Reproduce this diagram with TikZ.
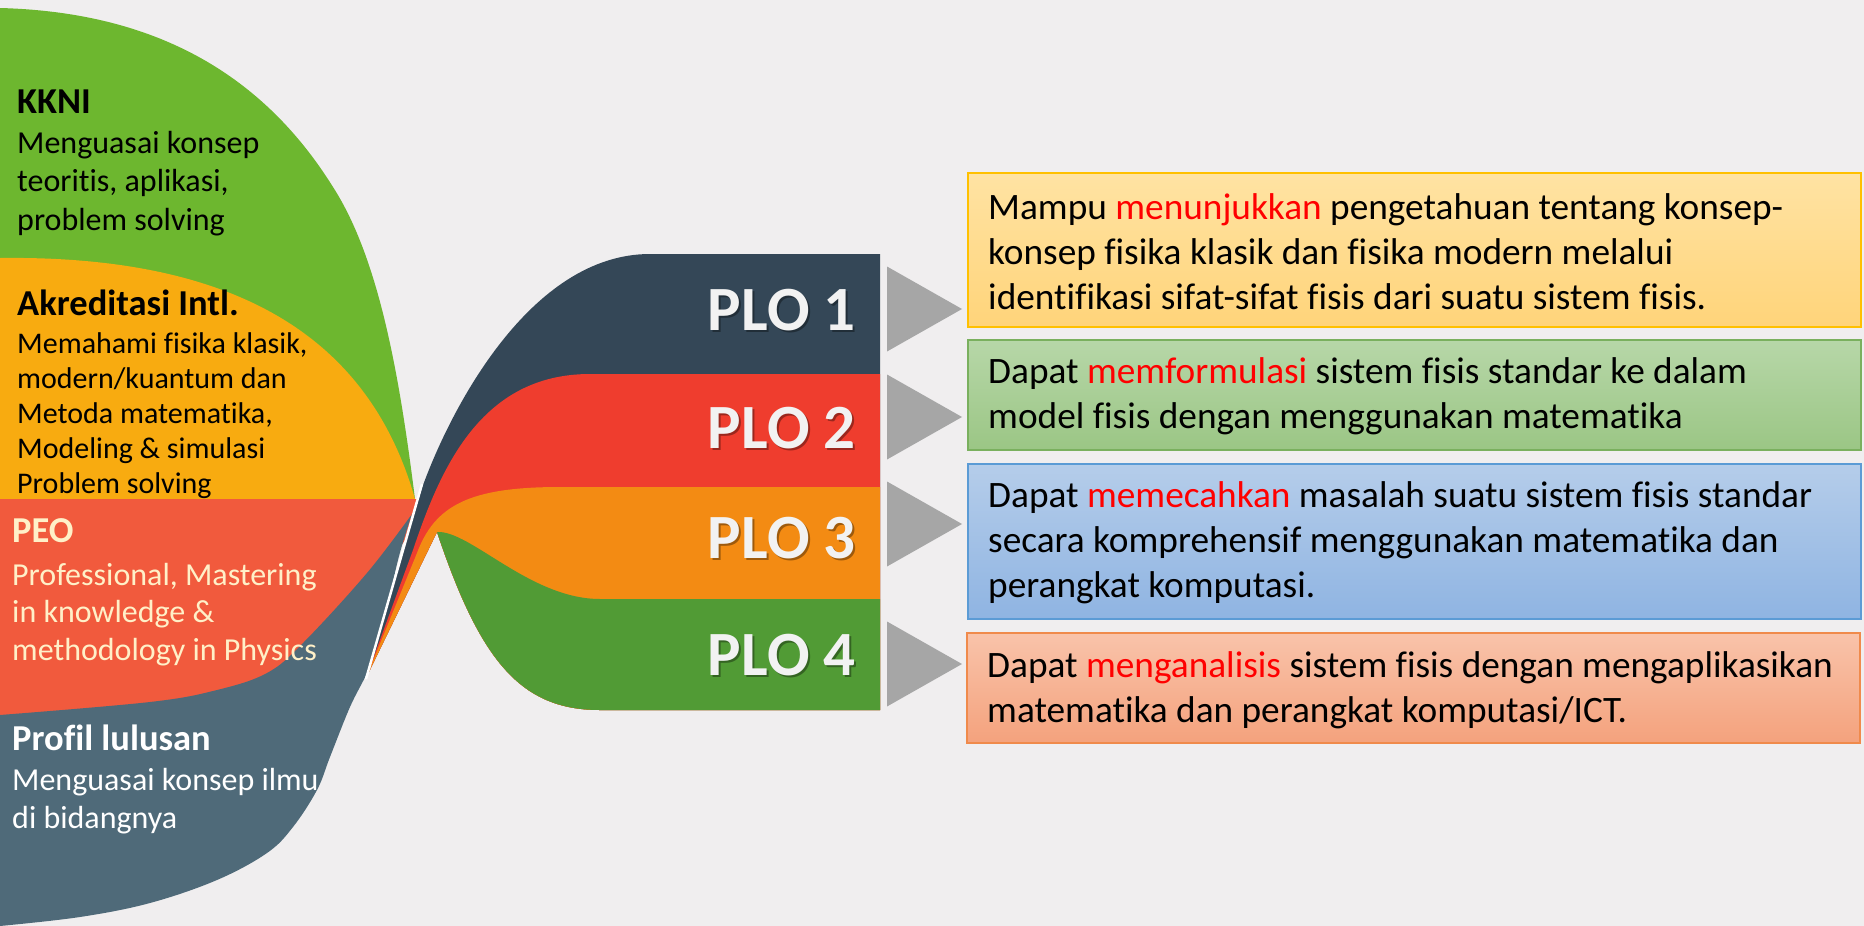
\documentclass[tikz,border=0pt]{standalone}
\usepackage{fontspec}
\setmainfont{Carlito}[Ligatures=NoCommon]
\usetikzlibrary{positioning}

\definecolor{bg}{HTML}{F0EEEF}
\definecolor{kkni}{HTML}{6DB72F}
\definecolor{akred}{HTML}{F8AB10}
\definecolor{peo}{HTML}{F15A3D}
\definecolor{peotext}{HTML}{FFF0C8}
\definecolor{profil}{HTML}{4F6A79}
\definecolor{ploa}{HTML}{344757}
\definecolor{plob}{HTML}{EF3D2E}
\definecolor{ploc}{HTML}{F38B13}
\definecolor{plod}{HTML}{519B35}
\definecolor{tri}{HTML}{A6A6A6}
\definecolor{hot}{HTML}{FF0000}

\begin{document}
\begin{tikzpicture}[x=1pt,y=-1pt,
  head/.style={anchor=base west,inner sep=0,font=\bfseries\fontsize{36.5}{43}\selectfont},
  body/.style={anchor=base west,inner sep=0,font=\fontsize{32}{38}\selectfont},
  plolabel/.style={anchor=base east,inner sep=0,text=white!95!black,font=\bfseries\fontsize{63}{70}\selectfont},
  plobox/.style={anchor=north west,minimum width=893pt,line width=1.5pt},
  boxtext/.style={align=left,inner sep=0,yshift=-2pt,font=\fontsize{37.3}{45}\selectfont}]

\useasboundingbox (0,0) rectangle (1864,926);
\fill[bg] (0,0) rectangle (1864,926);

% left fan
\fill[kkni] (0,8) .. controls (150,12) and (260,70) .. (333,187)
  .. controls (380,260) and (400,380) .. (415,499) -- (0,499) -- cycle;
\fill[akred] (0,258) .. controls (240,255) and (370,340) .. (415,499) -- (0,499) -- cycle;
\fill[peo] (0,499) -- (418,499) -- (405,540) -- (300,700) -- (0,720) -- cycle;
\fill[profil] plot[smooth,tension=.6] coordinates {(0,715) (150,702) (217,690) (267,673) (303,643) (367,573) (412,514)}
  -- plot[smooth,tension=.6] coordinates {(412,514) (398,560) (380,640) (367,673) (350,707) (330,757) (317,790) (293,827) (267,853) (217,880) (150,903) (80,917) (0,926)}
  -- cycle;

% PLO bands
\fill[ploa] (366,678) -- (422,488) .. controls (450,410) and (530,254) .. (650,254)
  -- (880,254) -- (880,710) -- (600,710) .. controls (520,710) and (480,660) .. (437,532) -- cycle;
\fill[plob] (366,678) -- (413,550) .. controls (440,470) and (480,374) .. (590,374)
  -- (880,374) -- (880,710) -- (600,710) .. controls (520,710) and (480,660) .. (437,532) -- cycle;
\fill[ploc] (366,678) -- (417,553) .. controls (435,505) and (470,487) .. (560,487)
  -- (880,487) -- (880,710) -- (600,710) .. controls (520,710) and (480,660) .. (437,532) -- cycle;
\fill[plod] (437,532) .. controls (470,530) and (530,599) .. (600,599)
  -- (880,599) -- (880,710) -- (600,710) .. controls (520,710) and (480,660) .. (437,532) -- cycle;

\draw[white,line width=2.5pt] (422,484) -- (366,679);

% left texts
\node[head] (kkni) at (17,113) {KKNI};
\foreach \t [count=\i] in {Menguasai konsep,{teoritis, aplikasi,},problem solving}
  \node[body] (kkni\i) at (17,{153+(\i-1)*38.5}) {\t};

\node[head] (akred) at (17,315) {Akreditasi Intl.};
\foreach \t [count=\i] in {{Memahami fisika klasik,},modern/kuantum dan,{Metoda matematika,},Modeling \& simulasi,Problem solving}
  \node[body,font=\fontsize{30}{35}\selectfont] (akred\i) at (17,{353+(\i-1)*35}) {\t};

\node[head,text=peotext] (peo) at (12,542) {PEO};
\foreach \t [count=\i] in {{Professional, Mastering},in knowledge \&,methodology in Physics}
  \node[body,text=peotext] (peo\i) at (12,{585+(\i-1)*37.5}) {\t};

\node[head,text=white] (profil) at (12,750) {Profil lulusan};
\foreach \t [count=\i] in {Menguasai konsep ilmu,di bidangnya}
  \node[body,text=white] (profil\i) at (12,{790+(\i-1)*38}) {\t};

% PLO labels
\foreach \n/\y in {1/330,2/448,3/558,4/675}{
  \node[plolabel,text=black,opacity=.35] (plo\n s) at (858,{\y+2}) {PLO \n};
  \node[plolabel] (plo\n) at (856,\y) {PLO \n};
}

% pointers
\foreach \y in {309,417,524,664}
  \fill[tri] (887,{\y-42.5}) -- (962,\y) -- (887,{\y+42.5}) -- cycle;

% outcome boxes
\node[plobox,minimum height=154pt,draw={rgb,255:red,255;green,192;blue,0},
  top color={rgb,255:red,255;green,227;blue,163},bottom color={rgb,255:red,255;green,212;blue,122}] (box1) at (967,172) {};
\node[plobox,minimum height=110pt,draw={rgb,255:red,122;green,176;blue,94},
  top color={rgb,255:red,183;green,215;blue,168},bottom color={rgb,255:red,155;green,198;blue,133}] (box2) at (967,339) {};
\node[plobox,minimum height=155pt,draw={rgb,255:red,91;green,155;blue,213},
  top color={rgb,255:red,181;green,205;blue,234},bottom color={rgb,255:red,143;green,180;blue,226}] (box3) at (967,463) {};
\node[plobox,minimum height=110pt,draw={rgb,255:red,240;green,138;blue,75},
  top color={rgb,255:red,249;green,195;blue,170},bottom color={rgb,255:red,244;green,162;blue,125}] (box4) at (966,632) {};

\node[boxtext,right=21pt of box1.west] (txt1) {Mampu \textcolor{hot}{menunjukkan} pengetahuan tentang konsep-\\konsep fisika klasik dan fisika modern melalui\\identifikasi sifat-sifat fisis dari suatu sistem fisis.};
\node[boxtext,right=21pt of box2.west] (txt2) {Dapat \textcolor{hot}{memformulasi} sistem fisis standar ke dalam\\model fisis dengan menggunakan matematika};
\node[boxtext,right=21pt of box3.west] (txt3) {Dapat \textcolor{hot}{memecahkan} masalah suatu sistem fisis standar\\secara komprehensif menggunakan matematika dan\\perangkat komputasi.};
\node[boxtext,right=21pt of box4.west] (txt4) {Dapat \textcolor{hot}{menganalisis} sistem fisis dengan mengaplikasikan\\matematika dan perangkat komputasi/ICT.};

\end{tikzpicture}
\end{document}
